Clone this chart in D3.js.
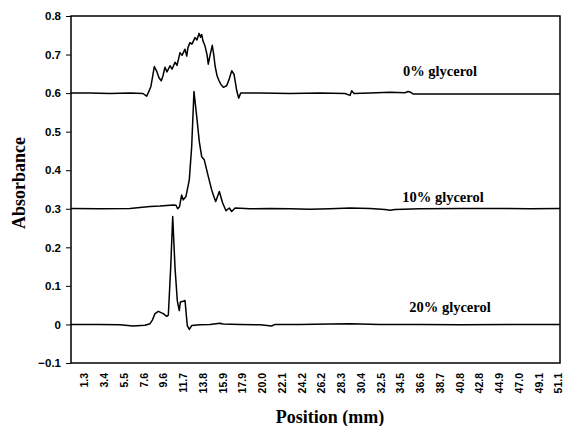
<!DOCTYPE html>
<html>
<head>
<meta charset="utf-8">
<script src="https://cdn.jsdelivr.net/npm/d3@7"></script>
<style>
  html, body { margin: 0; padding: 0; background: #fff; }
  svg { display: block; }
  .serif { font-family: "Liberation Serif", "Times New Roman", serif; font-weight: bold; }
  .sans { font-family: "Liberation Sans", Arial, sans-serif; font-weight: bold; }
</style>
</head>
<body>
<svg id="chart" width="566" height="426"></svg>
<script>
// Absorbance traces (mm position, absorbance), each offset on its own baseline
const pos0 = [0.00, 1.99, 4.09, 6.19, 7.55, 7.94, 8.18, 8.39, 8.74, 9.02, 9.23, 9.47, 9.65, 9.86, 10.07, 10.39, 10.60, 10.91, 11.12, 11.44, 11.65, 11.96, 12.14, 12.27, 12.48, 12.69, 13.01, 13.22, 13.43, 13.59, 13.71, 13.85, 14.06, 14.27, 14.40, 14.58, 14.82, 15.00, 15.11, 15.32, 15.53, 15.74, 15.98, 16.33, 16.58, 16.86, 17.10, 17.26, 17.39, 17.59, 17.80, 19.83, 22.98, 26.12, 28.75, 29.27, 29.45, 29.69, 31.37, 33.47, 35.04, 35.36, 35.56, 35.88, 37.66, 41.86, 46.06, 51.30];
const abs0 = [0.600, 0.600, 0.599, 0.600, 0.599, 0.592, 0.605, 0.618, 0.669, 0.655, 0.640, 0.632, 0.645, 0.667, 0.655, 0.671, 0.662, 0.680, 0.672, 0.705, 0.698, 0.714, 0.696, 0.718, 0.731, 0.727, 0.744, 0.738, 0.755, 0.745, 0.752, 0.735, 0.722, 0.700, 0.675, 0.697, 0.724, 0.695, 0.671, 0.645, 0.632, 0.622, 0.615, 0.619, 0.635, 0.658, 0.649, 0.625, 0.606, 0.587, 0.600, 0.600, 0.599, 0.600, 0.599, 0.594, 0.606, 0.599, 0.600, 0.602, 0.601, 0.604, 0.603, 0.598, 0.598, 0.598, 0.598, 0.598];

const pos10 = [0.00, 3.04, 6.19, 8.29, 9.34, 10.73, 11.02, 11.19, 11.38, 11.61, 11.78, 12.06, 12.41, 12.66, 12.90, 13.19, 13.46, 13.71, 13.98, 14.40, 14.76, 14.93, 15.18, 15.56, 15.91, 16.26, 16.61, 16.86, 17.21, 18.78, 20.88, 22.98, 25.07, 27.17, 29.27, 31.37, 32.94, 33.47, 33.99, 36.61, 40.81, 45.01, 48.15, 51.30];
const abs10 = [0.301, 0.300, 0.301, 0.306, 0.307, 0.310, 0.309, 0.300, 0.305, 0.336, 0.323, 0.332, 0.375, 0.461, 0.604, 0.539, 0.474, 0.435, 0.427, 0.384, 0.349, 0.336, 0.319, 0.345, 0.315, 0.295, 0.302, 0.293, 0.302, 0.300, 0.301, 0.300, 0.299, 0.300, 0.302, 0.301, 0.298, 0.296, 0.298, 0.300, 0.301, 0.301, 0.300, 0.301];

const pos20 = [0.00, 3.04, 5.14, 6.50, 7.76, 8.29, 8.55, 8.81, 9.16, 9.68, 10.04, 10.21, 10.46, 10.67, 10.91, 11.15, 11.36, 11.47, 11.78, 11.96, 12.20, 12.41, 12.66, 13.53, 14.58, 15.63, 15.95, 17.73, 19.83, 21.05, 21.40, 24.02, 27.17, 29.27, 32.42, 36.61, 40.81, 46.06, 51.30];
const abs20 = [0.000, 0.000, -0.001, -0.004, -0.002, 0.002, 0.012, 0.028, 0.034, 0.028, 0.021, 0.024, 0.148, 0.280, 0.148, 0.062, 0.036, 0.058, 0.060, 0.062, -0.003, -0.013, -0.003, -0.001, 0.000, 0.003, 0.001, 0.000, -0.001, -0.004, 0.000, 0.000, 0.001, 0.002, 0.000, 0.000, -0.001, 0.000, 0.000];

const seriesLabels = ["0% glycerol", "10% glycerol", "20% glycerol"];
const labelAnchors = [[440, 0.645], [443, 0.318], [450, 0.032]]; // [x px, absorbance of label baseline]

const xTickLabels = ["1.3", "3.4", "5.5", "7.6", "9.6", "11.7", "13.8", "15.9", "17.9", "20.0", "22.1", "24.2", "26.2", "28.3", "30.4", "32.5", "34.5", "36.6", "38.7", "40.8", "42.8", "44.9", "47.0", "49.1", "51.1"];
const yTicks = [-0.1, 0, 0.1, 0.2, 0.3, 0.4, 0.5, 0.6, 0.7, 0.8];

const svg = d3.select("#chart");
const plot = { left: 71, right: 560, top: 16, bottom: 363 };

const x = d3.scaleLinear().domain([0, 51.3]).range([plot.left, plot.right]);
const y = d3.scaleLinear().domain([-0.1, 0.8]).range([plot.bottom, plot.top]);

// Frame around the plotting area
svg.append("rect")
  .attr("x", plot.left).attr("y", plot.top)
  .attr("width", plot.right - plot.left).attr("height", plot.bottom - plot.top)
  .attr("fill", "none").attr("stroke", "#000").attr("stroke-width", 1.5);

// Y axis
const yAxis = d3.axisLeft(y).tickValues(yTicks).tickSize(5).tickPadding(5)
  .tickFormat(d => d === 0 ? "0" : d3.format(".1f")(d));
const gy = svg.append("g").attr("transform", `translate(${plot.left},0)`).call(yAxis);
gy.attr("font-family", null).attr("font-size", null);
gy.select(".domain").remove();
gy.selectAll("line").attr("stroke", "#000").attr("stroke-width", 1);
gy.selectAll("text").attr("class", "sans").style("font-size", "11.5px").attr("fill", "#000");

// X axis: rotated position labels, no tick marks
const xAxis = d3.axisBottom(x).tickValues(xTickLabels.map(Number)).tickSize(0).tickPadding(0)
  .tickFormat((d, i) => xTickLabels[i]);
const gx = svg.append("g").attr("transform", `translate(0,${plot.bottom})`).call(xAxis);
gx.attr("font-family", null).attr("font-size", null);
gx.select(".domain").remove();
gx.selectAll("text")
  .attr("class", "sans").style("font-size", "10.5px").attr("fill", "#000")
  .attr("text-anchor", "end")
  .attr("dy", null).attr("y", 0)
  .attr("transform", "translate(3.8,10) rotate(-90)");

// Traces
const line = d3.line().x(d => x(d[0])).y(d => y(d[1]));
const traces = [
  d3.zip(pos0, abs0),
  d3.zip(pos10, abs10),
  d3.zip(pos20, abs20)
];
svg.append("g").selectAll("path").data(traces).join("path")
  .attr("d", line)
  .attr("fill", "none").attr("stroke", "#000")
  .attr("stroke-width", 1.5).attr("stroke-linejoin", "round");

// Series labels
svg.append("g").selectAll("text").data(seriesLabels).join("text")
  .attr("class", "serif")
  .attr("x", (d, i) => labelAnchors[i][0])
  .attr("y", (d, i) => y(labelAnchors[i][1]))
  .attr("text-anchor", "middle")
  .style("font-size", "14.5px").attr("fill", "#000")
  .text(d => d);

// Axis titles
svg.append("text")
  .attr("class", "serif")
  .attr("transform", "translate(25,183) rotate(-90)")
  .attr("text-anchor", "middle")
  .style("font-size", "18px").attr("fill", "#000")
  .text("Absorbance");

svg.append("text")
  .attr("class", "serif")
  .attr("x", 330).attr("y", 423)
  .attr("text-anchor", "middle")
  .style("font-size", "18px").attr("fill", "#000")
  .text("Position (mm)");
</script>
</body>
</html>
